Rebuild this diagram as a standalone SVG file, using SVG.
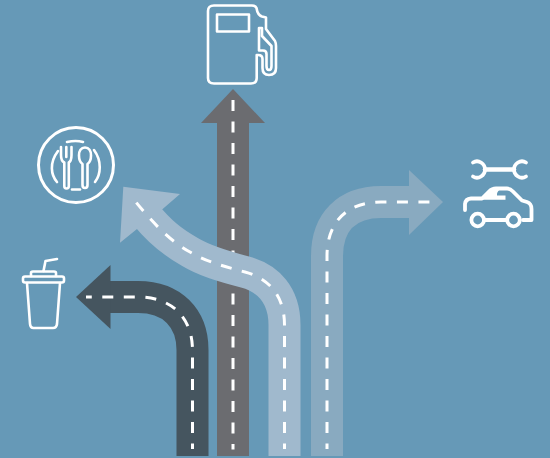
<svg xmlns="http://www.w3.org/2000/svg" width="550" height="458" viewBox="0 0 550 458">
<style>
.road{fill:none;stroke-width:32}
.dash{fill:none;stroke:#fff;stroke-width:3;stroke-dasharray:11 10.5}
.icon{fill:none;stroke:#fff;stroke-width:2.6;stroke-linecap:round;stroke-linejoin:round}
.thick{fill:none;stroke:#fff;stroke-width:3.8;stroke-linecap:round;stroke-linejoin:round}
</style>
<rect width="550" height="458" fill="#6699b7"/>
<g id="connectors">
<g id="road-gray">
<path class="road" stroke="#6b6c70" d="M233 456V120"/>
<path fill="#6b6c70" d="M233 89L265 123H201Z"/>
<path class="dash" stroke-dashoffset="5.5" d="M233 449.500V96"/>
</g>
<g id="road-dark">
<path class="road" stroke="#45555f" d="M192.500 456V350C192.500 318 172 297 138 297H106"/>
<path fill="#45555f" d="M76 297L110.500 265V329Z"/>
<path class="dash" stroke-dashoffset="5.500" d="M192.500 449V350C192.500 318 172 297 138 297H86"/>
</g>
<g id="road-right">
<path class="road" stroke="#89aac0" d="M327 456V256C327 222 347 202 381 202H412"/>
<path fill="#89aac0" d="M443 202L409 170V235Z"/>
<path class="dash" stroke-dashoffset="5.500" d="M327 449V256C327 222 347 202 381 202H433"/>
</g>
<g id="road-mid">
<path class="road" stroke="#a0b9cd" d="M284.500 456V325C284.500 295 268 278 245 272C222 266 205 261 190 252C172 242 160 232 146 215"/>
<path fill="#a0b9cd" d="M123.300 186.700L180 194L162.700 209L150 220L137 229L120 242.700Z"/>
<path class="dash" stroke-dashoffset="5.500" d="M284.500 449V325C284.500 295 268 278 245 272C222 266 205 261 190 252C172 242 156 227 132.500 198"/>
</g>
</g>
<g id="fuel" class="icon">
<path d="M214 5.500H252Q255.500 5.500 256.500 8Q257.500 15 262 16.500L266 17.500V29L275 41Q276 43 276 46V68Q276 75 269 75Q262.500 75 262.500 68V59Q262.500 55 258 55H256.700V78Q256.700 83.500 251 83.500H214Q208 83.500 208 78V11Q208 5.500 214 5.500Z"/>
<rect x="217" y="14.500" width="32" height="17"/>
<path d="M259 28H262V36L271.500 46V66Q271.500 70 269 70Q266.500 70 266.500 66V54Q266.500 50.500 263 50.500H259Z"/>
</g>
<g id="plate" class="icon">
<circle cx="76" cy="165" r="37.500" stroke-width="3"/>
<path d="M67 142Q76 140 83 142"/>
<path d="M58 151C49 163 51 175 57 182"/>
<path d="M94 150C102 161 101 174 95 182"/>
<path d="M72 189.500H80"/>
<path d="M61 147V155Q61 161 64.300 162.500V186Q64.300 188.500 66.500 188.500Q68.800 188.500 68.800 186V162.500Q71.500 161 71.500 155V147M66.300 147V157"/>
<path d="M85 147.500C89 147.500 91 151 91 155.500C91 160 89 163 87.500 164V185Q87.500 188 85 188Q82.500 188 82.500 185V164C81 163 79 160 79 155.500C79 151 81 147.500 85 147.500Z"/>
</g>
<g id="cup" class="icon">
<rect x="23" y="276.500" width="41" height="6" rx="2"/>
<path d="M31 276V273Q31 271.500 33 271.500H54Q56 271.500 56 273V276"/>
<path d="M27 283L30 324Q30.300 328 33.500 328H53Q56.500 328 57 324L60 283"/>
<path d="M43.500 271L45.500 261L57 259"/>
</g>
<g id="repair">
<g class="thick">
<path d="M473 162.500Q477 160 481 162.500Q485 165 485 169.500Q485 174 481 176.500Q477 179 473 176.500"/>
<path d="M526 162.500Q522 160 518 162.500Q514 165 514 169.500Q514 174 518 176.500Q522 179 526 176.500"/>
<path d="M485 169.500H514" style="stroke-width:4.500"/>
</g>
<g class="thick">
<path d="M465 210V204Q465.500 199 471 198.500H482L489 191.500Q492 188.500 496 188.500H507Q510 188.500 513 191.500L522 200.500L527 202Q531.500 203.500 531.500 209V220H523"/>
<circle cx="477.700" cy="220" r="6.300"/>
<circle cx="513.500" cy="220" r="6.300"/>
<path d="M484 220H507"/>
<path fill="#fff" stroke="none" d="M482 199.800V197L490 189.500L500 189.500Q496.500 192 497 195.500H505.500V199.800Z"/>
</g>
</g>
</svg>
